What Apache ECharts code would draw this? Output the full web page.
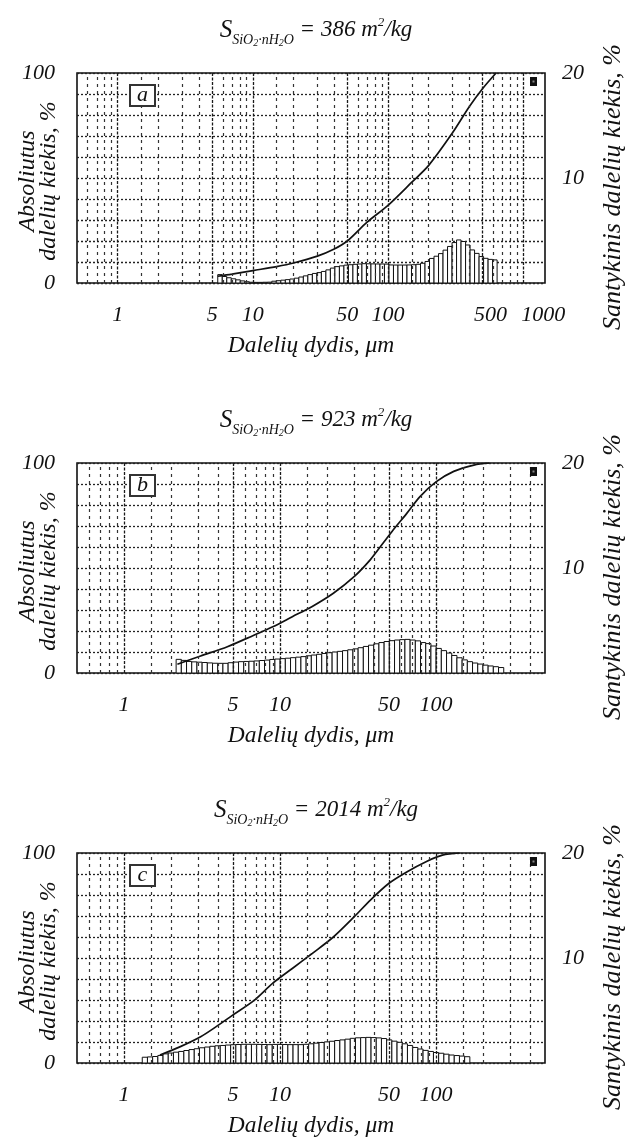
<!DOCTYPE html>
<html><head><meta charset="utf-8">
<script src="https://cdn.jsdelivr.net/npm/echarts@6/dist/echarts.min.js"></script>
<style>html,body{margin:0;padding:0;background:#fff}#c{width:632px;height:1139px}</style>
</head><body><div id="c"></div>
<script>
// ---- data ----
const surfaceAreas = [386, 923, 2014];           // m2/kg
const panelLetters = ['a', 'b', 'c'];
const xRanges = [[0.5, 1450], [0.5, 500], [0.5, 500]];
const tickLabelsA = [1, 5, 10, 50, 100, 500, 1000];
const tickLabelsBC = [1, 5, 10, 50, 100];
const majorGrid = [1, 5, 10, 50, 100, 500, 1000];
const minorGrid = [0.6, 0.7, 0.8, 0.9, 1.5, 2, 3, 4, 6, 7, 8, 9, 15, 20, 30, 40, 60, 70, 80, 90,
                   150, 200, 300, 400, 600, 700, 800, 900];
const binsPerDecade = 30;
const binStarts = [5.5, 2.16, 1.31];              // um, lower edge of first bin

// relative amount per bin, % (right axis)
const relA = [0.8,0.62,0.5,0.4,0.3,0.2,0.12,0.07,0.06,0.06,
              0.07,0.08,0.17,0.22,0.27,0.32,0.38,0.46,0.57,0.68,
              0.8,0.91,0.99,1.1,1.25,1.42,1.56,1.63,1.7,1.74,
              1.78,1.81,1.84,1.83,1.82,1.81,1.81,1.8,1.72,1.71,
              1.71,1.71,1.72,1.74,1.78,1.88,2.05,2.34,2.55,2.8,
              3.13,3.48,3.85,4.1,3.95,3.62,3.15,2.82,2.52,2.35,
              2.25,2.2];
const relB = [1.3,1.2,1.1,1.06,1.03,1.0,0.96,0.93,0.92,0.92,
              0.98,1.04,1.08,1.1,1.12,1.15,1.19,1.23,1.29,1.33,
              1.37,1.41,1.46,1.51,1.56,1.64,1.71,1.78,1.86,1.93,
              2.0,2.06,2.13,2.21,2.3,2.41,2.53,2.65,2.78,2.9,
              3.0,3.08,3.14,3.18,3.2,3.14,3.06,2.9,2.8,2.57,
              2.34,2.13,1.9,1.67,1.45,1.25,1.08,0.95,0.85,0.75,
              0.67,0.6,0.52];
const relC = [0.55,0.58,0.62,0.72,0.87,0.95,1.03,1.1,1.19,1.28,
              1.36,1.45,1.52,1.59,1.64,1.67,1.71,1.74,1.76,1.78,
              1.78,1.78,1.77,1.76,1.75,1.77,1.77,1.76,1.75,1.75,
              1.75,1.78,1.83,1.89,1.95,2.01,2.07,2.14,2.2,2.27,
              2.35,2.4,2.42,2.44,2.42,2.39,2.33,2.2,2.08,1.97,
              1.83,1.67,1.48,1.33,1.2,1.1,1.0,0.93,0.84,0.76,
              0.71,0.66,0.6];

// cumulative (absolute) amount, % (left axis): [size um, %]
const cumA = [[5.5,3.2],[7,4.2],[10,5.9],[15,7.8],[20,9.5],[30,12.8],[40,16.2],[50,20],
              [70,29],[100,37],[150,48],[200,56],[300,71.5],[400,84],[500,92.5],[630,100]];
const cumB = [[2.2,4.2],[3.1,8.1],[4.6,12.5],[6.8,18],[9,22],[12,26.8],[16,31.6],[22,38],
              [30,46],[38,54],[46,62],[53,68],[65,76],[79,84],[100,91],[130,96],[175,99],[220,100]];
const cumC = [[1.7,3.8],[2.3,7.8],[3.1,12.5],[3.9,17.3],[5,22.9],[6.8,29.7],[9,38],[12,45],
              [16,52],[22,60],[30,69.7],[38,77.6],[50,85.6],[65,91],[87,96],[110,99],[142,100]];

const relSets = [relA, relB, relC];
const cumSets = [cumA, cumB, cumC];
const tickSets = [tickLabelsA, tickLabelsBC, tickLabelsBC];

// ---- layout / style ----
const FONT = 'Liberation Serif';
const INK = '#111';
const gridTops = [73, 463, 853];
const gridLeft = 77, gridWidth = 468, gridHeight = 210;

function binData(start, heights) {
  return heights.map((h, i) => [
    start * Math.pow(10, i / binsPerDecade),
    start * Math.pow(10, (i + 1) / binsPerDecade),
    h
  ]);
}

const chart = echarts.init(document.getElementById('c'), null, {renderer: 'canvas'});

const grid = [], xAxis = [], yAxis = [], series = [], title = [], graphic = [];
const txt = (size, extra) => Object.assign({fontSize: size, fontFamily: FONT, fontStyle: 'italic',
                                            fontWeight: 'normal', color: INK}, extra || {});

gridTops.forEach((top, i) => {
  const [xmin, xmax] = xRanges[i];
  grid.push({left: gridLeft, top: top, width: gridWidth, height: gridHeight,
             containLabel: false, outerBoundsMode: 'none',
             show: true, borderColor: INK, borderWidth: 1.6, backgroundColor: 'transparent'});

  xAxis.push({
    gridIndex: i, type: 'log', logBase: 10, min: xmin, max: xmax,
    axisLine: {show: false}, axisTick: {show: false}, splitLine: {show: false}, minorSplitLine: {show: false},
    axisLabel: txt(22, {
      customValues: tickSets[i], margin: 21,
      formatter: v => {
        const r = Math.round(v);
        if (i === 0 && r === 500) return '{r1|500}';
        if (i === 0 && r === 1000) return '{r2|1000}';
        return String(r);
      },
      rich: {r1: txt(22, {padding: [0, 0, 0, 16]}), r2: txt(22, {padding: [0, 0, 0, 40]})}
    }),
    name: 'Dalelių dydis, μm', nameLocation: 'middle', nameGap: 51, nameMoveOverlap: false,
    nameTextStyle: txt(23.5)
  });

  yAxis.push({
    gridIndex: i, type: 'value', min: 0, max: 100, interval: 10, position: 'left',
    axisLine: {show: false}, axisTick: {show: false},
    axisLabel: txt(22, {formatter: v => (v === 0 || v === 100) ? String(v) : '', margin: 22}),
    splitLine: {show: true, lineStyle: {color: '#222', width: 1.3, type: [2, 2]}},
    name: 'Absoliutus\ndalelių kiekis, %', nameLocation: 'middle', nameRotate: 90, nameGap: 18,
    nameMoveOverlap: false,
    nameTextStyle: txt(24, {lineHeight: 21, padding: [0, 6, 0, 0]})
  });
  yAxis.push({
    gridIndex: i, type: 'value', min: 0, max: 20, interval: 10, position: 'right',
    axisLine: {show: false}, axisTick: {show: false}, splitLine: {show: false},
    axisLabel: txt(22, {formatter: v => v === 0 ? '' : String(v), margin: 17}),
    name: 'Santykinis dalelių kiekis, %', nameLocation: 'middle', nameRotate: 90, nameGap: 55,
    nameMoveOverlap: false,
    nameTextStyle: txt(26, {padding: [0, 18, 0, 0]})
  });

  // grid lines along the size axis
  const inRange = v => v > xmin && v < xmax;
  series.push({
    type: 'line', xAxisIndex: i, yAxisIndex: i * 2, data: [], z: 1, silent: true,
    markLine: {
      silent: true, symbol: 'none', animation: false, label: {show: false},
      data: majorGrid.filter(inRange).map(v => ({xAxis: v, lineStyle: {color: '#1a1a1a', width: 1.3, type: [3, 1.5]}}))
        .concat(minorGrid.filter(inRange).map(v => ({xAxis: v, lineStyle: {color: '#333', width: 1.2, type: [3, 4]}})))
    }
  });

  // relative distribution (histogram)
  series.push({
    type: 'custom', xAxisIndex: i, yAxisIndex: i * 2 + 1, z: 2,
    data: binData(binStarts[i], relSets[i]),
    encode: {x: [0, 1], y: 2},
    renderItem: (params, api) => {
      const p0 = api.coord([api.value(0), api.value(2)]);
      const p1 = api.coord([api.value(1), 0]);
      return {type: 'rect', shape: {x: p0[0], y: p0[1], width: p1[0] - p0[0], height: p1[1] - p0[1]},
              style: {fill: '#fff', stroke: INK, lineWidth: 1}};
    }
  });

  // cumulative curve
  series.push({
    type: 'line', xAxisIndex: i, yAxisIndex: i * 2, z: 3, data: cumSets[i],
    smooth: 0.3, symbol: 'none', lineStyle: {color: INK, width: 1.7}
  });

  title.push({
    left: 'center', top: top - 60,
    text: '{s|S}{sub|SiO}{sub2|2}{sub|·nH}{sub2|2}{sub|O}{m| = ' + surfaceAreas[i] + ' m}{sup|2}{m|/kg}',
    textStyle: {
      fontWeight: 'normal',
      rich: {
        s: txt(25, {lineHeight: 24, verticalAlign: 'middle'}),
        m: txt(23, {lineHeight: 24, verticalAlign: 'middle'}),
        sub: txt(14, {lineHeight: 14, padding: [20, 0, 0, 0], verticalAlign: 'middle'}),
        sub2: txt(10, {lineHeight: 11, padding: [26, 0, 0, 0], verticalAlign: 'middle'}),
        sup: txt(13, {lineHeight: 14, padding: [0, 0, 14, 0], verticalAlign: 'middle'})
      }
    }
  });

  // panel letter box and small legend marker
  graphic.push({type: 'rect', x: 130, y: top + 12, shape: {width: 25, height: 21},
                style: {fill: '#fff', stroke: '#333', lineWidth: 2}, z: 10});
  graphic.push({type: 'text', x: 142.5, y: top + 22.5, z: 11,
                style: {text: panelLetters[i], textAlign: 'center', textVerticalAlign: 'middle',
                        font: 'italic 22px "Liberation Serif"', fill: INK}});
  graphic.push({type: 'rect', x: 530, y: top + 4, shape: {width: 7, height: 9}, style: {fill: INK}, z: 10});
  graphic.push({type: 'rect', x: 532.5, y: top + 7.5, shape: {width: 2, height: 2}, style: {fill: '#888'}, z: 11});
});

chart.setOption({
  animation: false,
  backgroundColor: '#fff',
  textStyle: {fontFamily: FONT, fontStyle: 'italic', color: INK},
  title, grid, xAxis, yAxis, series, graphic
});
</script>
</body></html>
